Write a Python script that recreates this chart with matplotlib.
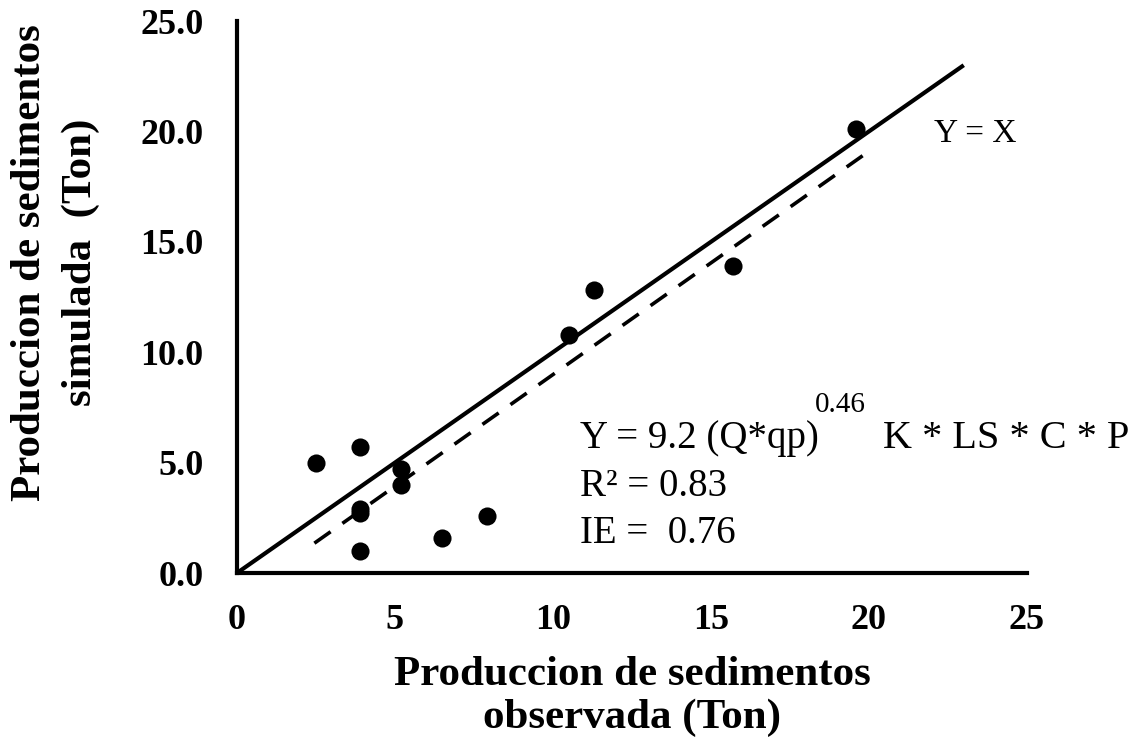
import matplotlib.pyplot as plt
import numpy as np

observed = [2.5, 3.9, 3.9, 3.9, 3.9, 5.2, 5.2, 6.5, 7.9, 10.5, 11.3, 15.7, 19.6]
simulated = [5.0, 5.7, 2.9, 2.7, 1.0, 4.7, 4.0, 1.6, 2.6, 10.8, 12.8, 13.9, 20.1]
identity_x = [0, 23]
fit_x = [2.45, 19.8]
fit_y = [1.35, 18.9]

x_ticks = [0, 5, 10, 15, 20, 25]
y_ticks = [0, 5, 10, 15, 20, 25]

SERIF = ["Liberation Serif", "DejaVu Serif"]

plt.rcParams.update({
    "font.family": SERIF,
    "axes.spines.top": False,
    "axes.spines.right": False,
})

fig = plt.figure(figsize=(11.3, 7.46), dpi=100)
ax = fig.add_axes([0.2097, 0.2319, 0.6991, 0.7399])

ax.plot(identity_x, identity_x, color="black", linewidth=3.0, solid_capstyle="butt")
ax.plot(fit_x, fit_y, color="black", linewidth=2.6, linestyle=(0, (5.5, 4)))
ax.scatter(observed, simulated, s=170, color="black", zorder=3, linewidths=0)

ax.set_xlim(0, 25)
ax.set_ylim(0, 25)
ax.set_xticks(x_ticks, [f"{v}" for v in x_ticks])
ax.set_yticks(y_ticks, [f"{v:.1f}" for v in y_ticks])
ax.tick_params(length=0, labelsize=26)
ax.tick_params(axis="y", pad=24)
ax.tick_params(axis="x", pad=22)
for lab in ax.get_xticklabels() + ax.get_yticklabels():
    lab.set_fontweight("bold")
for side in ("left", "bottom"):
    ax.spines[side].set_linewidth(3.0)

ax.set_xlabel("Produccion de sedimentos\nobservada (Ton)", fontsize=31,
              fontweight="bold", labelpad=14, linespacing=1.15)
ax.set_ylabel("Produccion de sedimentos\nsimulada  (Ton)", fontsize=31,
              fontweight="bold", linespacing=1.45)
ax.yaxis.set_label_coords(-0.173, 0.563)

ax.text(22.05, 19.9, "Y = X", fontsize=24, va="center", ha="left")
ax.text(10.85, 6.1, "Y = 9.2 (Q*qp)", fontsize=28, va="center", ha="left")
ax.text(18.3, 7.6, "0.46", fontsize=21, va="center", ha="left")
ax.text(20.45, 6.1, "K * LS * C * P", fontsize=29, va="center", ha="left")
ax.text(10.85, 3.9, "R² = 0.83", fontsize=28, va="center", ha="left")
ax.text(10.85, 1.8, "IE =  0.76", fontsize=28, va="center", ha="left")

fig.savefig("out.png", dpi=100, facecolor="white")
